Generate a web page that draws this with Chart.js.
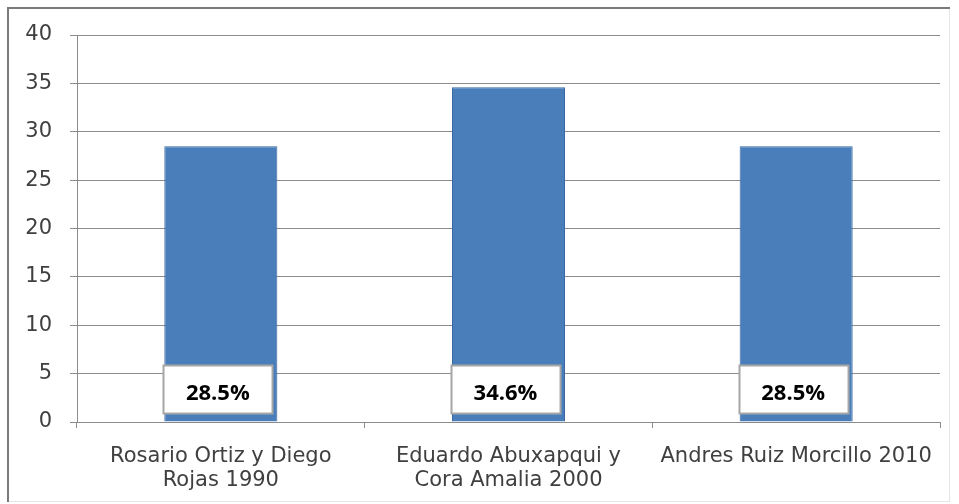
<!DOCTYPE html>
<html>
<head>
<meta charset="utf-8">
<script src="https://cdn.jsdelivr.net/npm/chart.js@4/dist/chart.umd.min.js"></script>
<style>
  html, body { margin: 0; padding: 0; background: #ffffff; }
  #wrap { width: 959px; height: 504px; position: relative; }
</style>
</head>
<body>
<div id="wrap"><canvas id="c" width="959" height="504"></canvas></div>
<script>
// Categories (multi-line labels) and values, in percent
const categories = [
  ["Rosario Ortiz y Diego", "Rojas 1990"],
  ["Eduardo Abuxapqui y", "Cora Amalia 2000"],
  "Andres Ruiz Morcillo 2010"
];
const values = [28.5, 34.6, 28.5];
const yTicks = { min: 0, max: 40, step: 5 };

const AXIS_FONT = "'DejaVu Sans', sans-serif";
const LABEL_FONT = "'Open Sans', 'Liberation Sans', sans-serif";

// Outer frame around the whole chart
const framePlugin = {
  id: 'frame',
  beforeDraw(chart) {
    const ctx = chart.ctx;
    ctx.save();
    ctx.fillStyle = '#ffffff';
    ctx.fillRect(0, 0, chart.width, chart.height);
    ctx.strokeStyle = '#e6e6e6';
    ctx.lineWidth = 1;
    ctx.strokeRect(8.5, 8.5, 941, 493);
    ctx.strokeStyle = '#7a7a7a';
    ctx.lineWidth = 2;
    ctx.beginPath();
    ctx.moveTo(8, 502);
    ctx.lineTo(8, 8);
    ctx.lineTo(950, 8);
    ctx.stroke();
    ctx.restore();
  }
};

// White boxed value labels sitting near the base of each bar
const boxLabelPlugin = {
  id: 'boxLabels',
  afterDatasetsDraw(chart) {
    const ctx = chart.ctx;
    const meta = chart.getDatasetMeta(0);
    const yScale = chart.scales.y;
    ctx.save();
    meta.data.forEach((bar, i) => {
      const v = chart.data.datasets[0].data[i];
      const w = 109, h = 48;
      const cx = bar.x - 3;
      const bottom = yScale.getPixelForValue(0) - 9;
      const x0 = Math.round(cx - w / 2) + 0.5, y0 = Math.round(bottom - h) + 0.5;
      ctx.fillStyle = '#ffffff';
      ctx.fillRect(x0, y0, w, h);
      ctx.strokeStyle = '#a6a6a6';
      ctx.lineWidth = 2;
      ctx.strokeRect(x0, y0, w, h);
      ctx.fillStyle = '#000000';
      ctx.font = "bold 22px " + LABEL_FONT;
      ctx.textAlign = 'center';
      ctx.textBaseline = 'middle';
      ctx.fillText(v.toFixed(1) + '%', cx, y0 + h / 2 + 4);
    });
    ctx.restore();
  }
};

// Bars get a soft horizontal shading, lighter in the middle
function barFill(context) {
  const el = context.element;
  if (!el || !Number.isFinite(el.x) || !Number.isFinite(el.width) || el.width <= 0) return '#4a7ebb';
  const g = context.chart.ctx.createLinearGradient(el.x - el.width / 2, 0, el.x + el.width / 2, 0);
  g.addColorStop(0, '#3f70ad');
  g.addColorStop(0.5, '#4c82c2');
  g.addColorStop(1, '#3f70ad');
  return g;
}

new Chart(document.getElementById('c'), {
  type: 'bar',
  data: {
    labels: categories,
    datasets: [{
      data: values,
      backgroundColor: barFill,
      borderColor: '#3a67a0',
      borderWidth: 1,
      categoryPercentage: 0.393,
      barPercentage: 1.0
    }]
  },
  options: {
    responsive: false,
    animation: false,
    devicePixelRatio: 1,
    layout: { padding: { top: 35, right: 19, left: 10, bottom: 6 } },
    plugins: {
      legend: { display: false },
      tooltip: { enabled: false },
      title: { display: false }
    },
    scales: {
      x: {
        grid: {
          display: true,
          drawOnChartArea: false,
          drawTicks: true,
          tickLength: 6,
          color: '#8c8c8c',
          offset: true
        },
        border: { display: true, color: '#8c8c8c', width: 1 },
        ticks: {
          color: '#404040',
          font: { family: AXIS_FONT, size: 21, lineHeight: 1.143 },
          maxRotation: 0,
          autoSkip: false,
          padding: 17
        },
        afterFit(scale) { scale.height = 504 - 422 - 6; }
      },
      y: {
        min: yTicks.min,
        max: yTicks.max,
        ticks: {
          stepSize: yTicks.step,
          color: '#404040',
          font: { family: AXIS_FONT, size: 21 },
          padding: 18
        },
        grid: {
          color: '#8c8c8c',
          tickLength: 7,
          drawTicks: true
        },
        border: { display: true, color: '#8c8c8c', width: 1 },
        afterFit(scale) { scale.width = 77 - 10; }
      }
    }
  },
  plugins: [framePlugin, boxLabelPlugin]
});
</script>
</body>
</html>
